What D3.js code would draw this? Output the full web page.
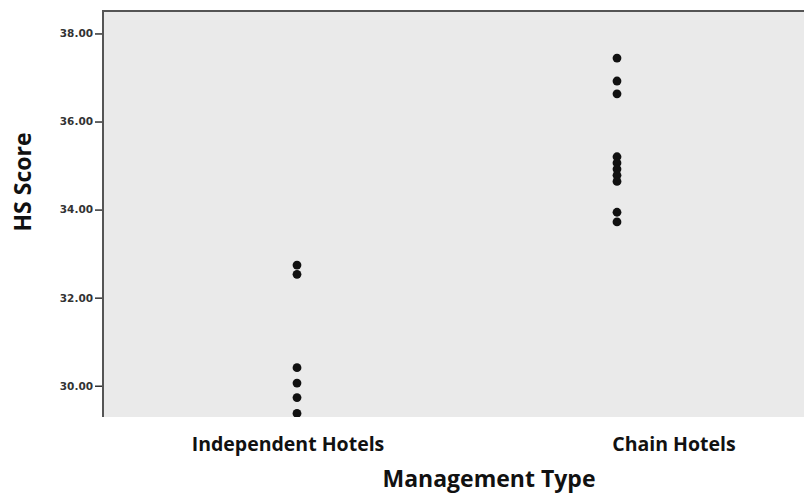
<!DOCTYPE html>
<html><head><meta charset="utf-8">
<script src="https://cdn.jsdelivr.net/npm/d3@7"></script>
<style>body{margin:0;background:#fff}</style>
</head><body>
<svg id="c" width="804" height="494"></svg>
<script>
const categories = ["Independent Hotels", "Chain Hotels"];
const independentScores = [32.74, 32.53, 30.41, 30.06, 29.73, 29.37];
const chainScores = [37.44, 36.92, 36.63, 35.20, 35.06, 34.92, 34.78, 34.64, 33.94, 33.72];
const yTicks = [30, 32, 34, 36, 38];
const xTitle = "Management Type";
const yTitle = "HS Score";

const svg = d3.select("#c");
const plot = {left: 103, top: 11, right: 812, bottom: 417};

const y = d3.scaleLinear().domain([29.29, 38.51]).range([plot.bottom, plot.top]);
const xDots = d3.scalePoint().domain(categories).range([297, 617]);
const xLabels = d3.scalePoint().domain(categories).range([288, 674]);

svg.append("defs").append("clipPath").attr("id", "clip")
  .append("rect").attr("x", plot.left).attr("y", plot.top)
  .attr("width", plot.right - plot.left).attr("height", plot.bottom - plot.top);

svg.append("rect").attr("x", plot.left).attr("y", plot.top)
  .attr("width", plot.right - plot.left).attr("height", plot.bottom - plot.top)
  .attr("fill", "#eaeaea");

const pts = [];
independentScores.forEach(v => pts.push({c: categories[0], v}));
chainScores.forEach(v => pts.push({c: categories[1], v}));

svg.append("g").attr("clip-path", "url(#clip)")
  .selectAll("circle").data(pts).join("circle")
  .attr("cx", d => xDots(d.c)).attr("cy", d => y(d.v)).attr("r", 4.4)
  .attr("fill", "#111");

// borders
svg.append("line").attr("x1", plot.left).attr("x2", plot.right)
  .attr("y1", plot.top).attr("y2", plot.top).attr("stroke", "#555").attr("stroke-width", 2);
svg.append("line").attr("x1", plot.left).attr("x2", plot.left)
  .attr("y1", plot.top - 1).attr("y2", plot.bottom).attr("stroke", "#555").attr("stroke-width", 2);

// y axis
const yAxis = d3.axisLeft(y).tickValues(yTicks).tickSize(7).tickPadding(2)
  .tickFormat(d3.format(".2f"));
const ga = svg.append("g").attr("transform", `translate(${plot.left - 1},0)`).call(yAxis);
ga.select(".domain").remove();
ga.selectAll(".tick line").attr("stroke", "#333").attr("stroke-width", 1.5);
ga.selectAll(".tick text").attr("font-family", "DejaVu Sans").attr("font-size", 10.5)
  .attr("font-weight", "bold").attr("fill", "#333");

// category labels
svg.append("g").selectAll("text").data(categories).join("text")
  .attr("x", d => xLabels(d)).attr("y", 451).attr("text-anchor", "middle")
  .attr("font-family", "Open Sans").attr("font-weight", "bold").attr("font-size", 19.5)
  .attr("fill", "#111").text(d => d);

svg.append("text").attr("x", 489).attr("y", 487).attr("text-anchor", "middle")
  .attr("font-family", "Open Sans").attr("font-weight", "bold").attr("font-size", 23)
  .attr("fill", "#111").text(xTitle);

svg.append("text").attr("transform", "translate(31,182) rotate(-90)").attr("text-anchor", "middle")
  .attr("font-family", "Open Sans").attr("font-weight", "bold").attr("font-size", 23)
  .attr("fill", "#111").text(yTitle);
</script>
</body></html>
